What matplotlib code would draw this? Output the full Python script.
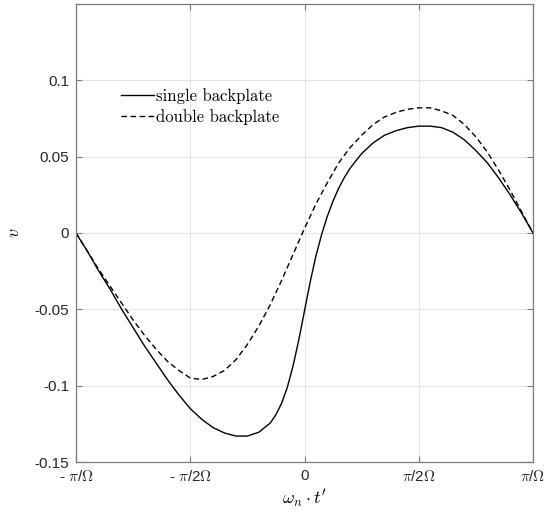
import matplotlib
matplotlib.use("Agg")
import matplotlib.pyplot as plt

plt.rcParams['font.family'] = ['Liberation Sans', 'DejaVu Sans']
plt.rcParams['mathtext.fontset'] = 'cm'

# x in units of pi/Omega
x_single = [-1.00, -0.95, -0.90, -0.85, -0.80, -0.75, -0.70, -0.65, -0.60, -0.55,
            -0.50, -0.45, -0.40, -0.35, -0.30, -0.25, -0.20, -0.15, -0.125, -0.10,
            -0.075, -0.05, -0.025, 0.00, 0.025, 0.05, 0.075, 0.10, 0.125, 0.15,
            0.175, 0.20, 0.25, 0.30, 0.35, 0.40, 0.45, 0.50, 0.55, 0.60,
            0.65, 0.70, 0.75, 0.80, 0.85, 0.90, 0.95, 1.00]
v_single = [0.000, -0.012, -0.025, -0.037, -0.050, -0.062, -0.074, -0.085, -0.096, -0.106,
            -0.115, -0.122, -0.1275, -0.131, -0.133, -0.133, -0.1305, -0.1245, -0.119, -0.1115,
            -0.101, -0.087, -0.070, -0.051, -0.032, -0.015, -0.001, 0.011, 0.021, 0.0295,
            0.0365, 0.0425, 0.052, 0.059, 0.064, 0.067, 0.069, 0.070, 0.070, 0.069,
            0.066, 0.061, 0.054, 0.046, 0.036, 0.025, 0.013, 0.000]

x_double = [-1.00, -0.95, -0.90, -0.85, -0.80, -0.75, -0.70, -0.65, -0.60, -0.55,
            -0.50, -0.45, -0.40, -0.35, -0.30, -0.25, -0.20, -0.15, -0.10, -0.05,
            0.00, 0.05, 0.10, 0.15, 0.20, 0.25, 0.30, 0.35, 0.40, 0.45,
            0.50, 0.55, 0.60, 0.65, 0.70, 0.75, 0.80, 0.85, 0.90, 0.95, 1.00]
v_double = [0.000, -0.012, -0.024, -0.035, -0.046, -0.057, -0.067, -0.076, -0.084, -0.090,
            -0.095, -0.096, -0.094, -0.090, -0.083, -0.073, -0.061, -0.047, -0.031, -0.014,
            0.003, 0.019, 0.033, 0.046, 0.056, 0.064, 0.071, 0.076, 0.079, 0.081,
            0.082, 0.082, 0.080, 0.077, 0.071, 0.063, 0.053, 0.041, 0.028, 0.014, 0.000]

xtick_vals = [-1.0, -0.5, 0.0, 0.5, 1.0]
xtick_labels = [r'- $\pi$/$\Omega$', r'- $\pi$/2$\Omega$', '0', r'$\pi$/2$\Omega$', r'$\pi$/$\Omega$']
ytick_vals = [-0.15, -0.1, -0.05, 0.0, 0.05, 0.1]
ytick_labels = ['-0.15', '-0.1', '-0.05', '0', '0.05', '0.1']
series_names = ['single backplate', 'double backplate']

fig = plt.figure(figsize=(5.55, 5.13), dpi=100)
ax = fig.add_axes([76/555, 51/513, 457/555, 458/513])

ax.plot(x_single, v_single, color='black', lw=1.0, label=series_names[0])
ax.plot(x_double, v_double, color='black', lw=1.0, ls=(0, (4, 2.5)), label=series_names[1])

ax.set_xlim(-1, 1)
ax.set_ylim(-0.15, 0.15)
ax.set_xticks(xtick_vals)
ax.set_xticklabels(xtick_labels)
ax.set_yticks(ytick_vals)
ax.set_yticklabels(ytick_labels)
ax.grid(True, color='#e3e3e3', lw=0.8)
ax.set_axisbelow(True)
for s in ax.spines.values():
    s.set_color('#7a7a7a')
    s.set_linewidth(0.9)
ax.tick_params(direction='in', length=4, width=0.8, color='#7a7a7a',
               top=True, right=True, labelsize=11, labelcolor='#262626', pad=5)

ax.set_xlabel(r"$\omega_n \cdot t'$", fontsize=13, labelpad=2)
ax.set_ylabel(r"$v$", fontsize=13)
ax.yaxis.set_label_coords(-0.115, 0.5)

leg = ax.legend(loc='upper left', bbox_to_anchor=(0.065, 0.85), frameon=False,
                handlelength=2.0, handletextpad=0.1, labelspacing=0.35,
                prop={'family': 'cmr10', 'size': 12})

fig.savefig('out.png', dpi=100)
